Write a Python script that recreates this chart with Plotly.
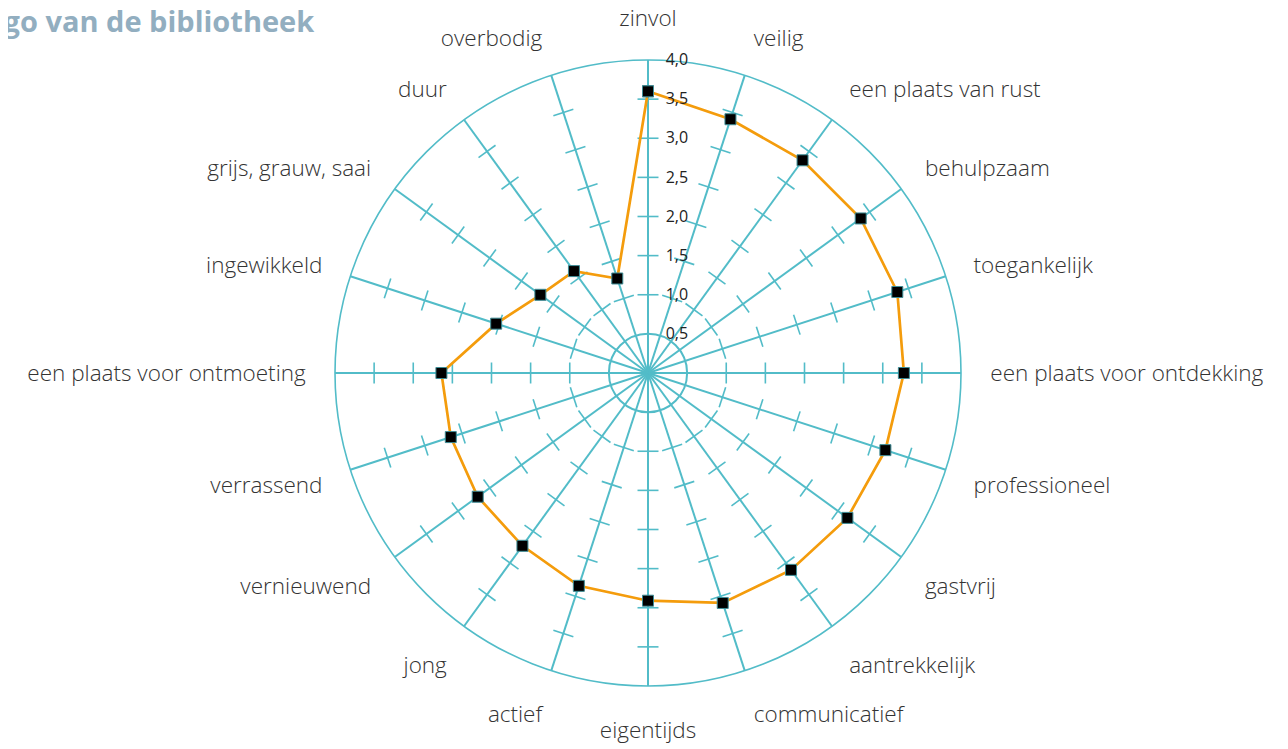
import plotly.graph_objects as go

categories = ["zinvol", "veilig", "een plaats van rust", "behulpzaam", "toegankelijk",
              "een plaats voor ontdekking", "professioneel", "gastvrij", "aantrekkelijk",
              "communicatief", "eigentijds", "actief", "jong", "vernieuwend", "verrassend",
              "een plaats voor ontmoeting", "ingewikkeld", "grijs, grauw, saai", "duur", "overbodig"]
scores = [3.60, 3.41, 3.36, 3.36, 3.35, 3.27, 3.19, 3.15, 3.11, 3.09,
          2.91, 2.86, 2.73, 2.69, 2.65, 2.64, 2.04, 1.70, 1.61, 1.27]
radial_ticks = [0.5, 1.0, 1.5, 2.0, 2.5, 3.0, 3.5, 4.0]
radial_labels = ["0,5", "1,0", "1,5", "2,0", "2,5", "3,0", "3,5", "4,0"]
spoke_ticks = [1.0, 1.5, 2.0, 2.5, 3.0, 3.5]
title_text = "Imago van de bibliotheek"

TEAL = "#52BCC8"
ORANGE = "#F49C0C"
FONT = "Open Sans"
W, H = 1288, 749
OFF = 8  # page body margin

n = len(categories)
step = 360.0 / n

# small tick marks on every spoke
tick_theta, tick_r, tick_angle = [], [], []
for i, c in enumerate(categories):
    for r in spoke_ticks:
        tick_theta.append(c)
        tick_r.append(r)
        tick_angle.append(i * step)

fig = go.Figure()
# invisible trace so the grid subplot is drawn
fig.add_trace(go.Scatterpolar(
    r=scores, theta=categories, mode="markers", subplot="polar",
    marker=dict(size=1, opacity=0), hoverinfo="skip", showlegend=False))
fig.add_trace(go.Scatterpolar(
    r=tick_r, theta=tick_theta, mode="markers", subplot="polar2",
    marker=dict(symbol="line-ew", size=15, angle=tick_angle,
                line=dict(color=TEAL, width=1.6)),
    hoverinfo="skip", showlegend=False))
fig.add_trace(go.Scatterpolar(
    r=scores + [scores[0]], theta=categories + [categories[0]],
    mode="lines+markers", subplot="polar2",
    line=dict(color=ORANGE, width=2.7),
    marker=dict(symbol="square", size=11, color="black",
                line=dict(color="#3f8d96", width=1)),
    showlegend=False))

cx, cy, R = 648 - OFF, 373 - OFF, 313
dom_x = [(cx - R) / W, (cx + R) / W]
dom_y = [(H - (cy + R)) / H, (H - (cy - R)) / H]

common_ang = dict(categoryorder="array", categoryarray=categories,
                  direction="clockwise", rotation=90)

fig.update_layout(
    width=W, height=H,
    margin=dict(l=0, r=0, t=0, b=0),
    paper_bgcolor="white",
    showlegend=False,
    polar=dict(
        domain=dict(x=dom_x, y=dom_y),
        bgcolor="white",
        angularaxis=dict(**common_ang, type="category",
                         showgrid=True, gridcolor=TEAL, gridwidth=1.5,
                         showline=True, linecolor=TEAL, linewidth=1.6,
                         ticks="outside", ticklen=24, tickcolor="rgba(0,0,0,0)",
                         tickfont=dict(family=FONT, size=22.5, color="#333333", weight=300)),
        radialaxis=dict(range=[0, 4], tickvals=[0.5], showticklabels=False,
                        showline=False, ticks="", showgrid=True,
                        gridcolor=TEAL, gridwidth=1.5),
    ),
    polar2=dict(
        domain=dict(x=dom_x, y=dom_y),
        bgcolor="rgba(0,0,0,0)",
        angularaxis=dict(**common_ang, type="category", visible=False,
                         showgrid=False, showline=False, showticklabels=False),
        radialaxis=dict(range=[0, 4], tickvals=radial_ticks, ticktext=radial_labels,
                        angle=90, tickangle=90, showgrid=False, showline=False,
                        ticks="outside", ticklen=14, tickcolor="rgba(0,0,0,0)",
                        tickfont=dict(family=FONT, size=16, color="#222222")),
    ),
    annotations=[dict(text="<b>" + title_text + "</b>", xref="paper", yref="paper",
                      x=(316 - OFF) / W, y=1 - (21 - OFF) / H, xanchor="right", yanchor="middle",
                      showarrow=False,
                      font=dict(family=FONT, size=29, color="#92AEC0"))],
)

fig.write_html("out.html")
